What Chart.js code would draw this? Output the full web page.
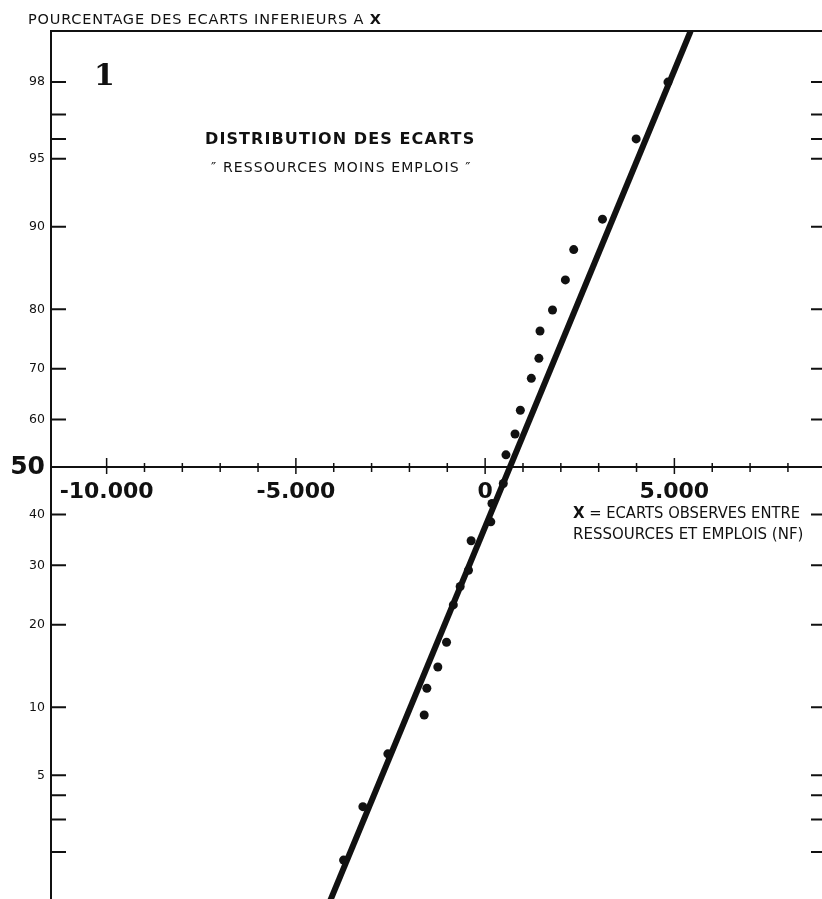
<!DOCTYPE html>
<html>
<head>
<meta charset="utf-8">
<script src="https://cdn.jsdelivr.net/npm/chart.js@4.4.1/dist/chart.umd.min.js"></script>
<style>
  html, body { margin: 0; padding: 0; background: #fff; overflow: hidden; }
  #wrap { width: 822px; height: 899px; }
</style>
</head>
<body>
<div id="wrap"><canvas id="probitChart" width="822" height="899"></canvas></div>
<script>
// ecarts observes (NF) et pourcentage cumule correspondant
const ecarts = [4830, 3990, 3100, 2340, 2120, 1780, 1450, 1420, 1220, 930, 790, 550, 480,
  180, 150, -370, -440, -660, -840, -1020, -1250, -1540, -1610, -2570, -3230, -3740];
const pourcentages = [98.0, 96.0, 90.7, 87.7, 84.1, 79.9, 76.6, 71.9, 68.2, 61.9, 57.0, 52.6, 46.5,
  42.3, 38.5, 34.7, 29.1, 26.2, 23.1, 17.5, 14.3, 11.9, 9.3, 6.3, 3.5, 1.8];

// droite d'ajustement (deux extremites)
const droiteX = [-4120, 5430];
const droitePct = [1, 99];

// graduations
const yGraduations = [98, 97, 96, 95, 90, 80, 70, 60, 50, 40, 30, 20, 10, 5, 4, 3, 2];
const yLabels = [98, 95, 90, 80, 70, 60, 50, 40, 30, 20, 10, 5];
const xGraduations = [-10000, -9000, -8000, -7000, -6000, -5000, -4000, -3000, -2000, -1000,
  0, 1000, 2000, 3000, 4000, 5000, 6000, 7000, 8000];
const xLabels = [-10000, -5000, 0, 5000];

const ink = '#111';
const family = '"DejaVu Sans", sans-serif';

// inverse of the normal distribution (Acklam), used for the probability scale
function probit(p) {
  const a = [-39.69683028665376, 220.9460984245205, -275.9285104469687, 138.3577518672690, -30.66479806614716, 2.506628277459239];
  const b = [-54.47609879822406, 161.5858368580409, -155.6989798598866, 66.80131188771972, -13.28068155288572];
  const c = [-0.007784894002430293, -0.3223964580411365, -2.400758277161838, -2.549732539343734, 4.374664141464968, 2.938163982698783];
  const d = [0.007784695709041462, 0.3224671290700398, 2.445134137142996, 3.754408661907416];
  const pl = 0.02425;
  if (p < pl) {
    const q = Math.sqrt(-2 * Math.log(p));
    return (((((c[0]*q+c[1])*q+c[2])*q+c[3])*q+c[4])*q+c[5]) / ((((d[0]*q+d[1])*q+d[2])*q+d[3])*q+1);
  }
  if (p > 1 - pl) {
    const q = Math.sqrt(-2 * Math.log(1 - p));
    return -(((((c[0]*q+c[1])*q+c[2])*q+c[3])*q+c[4])*q+c[5]) / ((((d[0]*q+d[1])*q+d[2])*q+d[3])*q+1);
  }
  const q = p - 0.5, r = q * q;
  return (((((a[0]*r+a[1])*r+a[2])*r+a[3])*r+a[4])*r+a[5])*q / (((((b[0]*r+b[1])*r+b[2])*r+b[3])*r+b[4])*r+1);
}
const z = pct => probit(pct / 100);

const points = ecarts.map((x, i) => ({ x: x, y: z(pourcentages[i]) }));
const droite = droiteX.map((x, i) => ({ x: x, y: z(droitePct[i]) }));

function fmtNF(v) {
  if (v === 0) return '0';
  const s = Math.abs(v).toString().replace(/\B(?=(\d{3})+(?!\d))/g, '.');
  return (v < 0 ? '-' : '') + s;
}

function pctOf(v) {
  return yGraduations.find(p => Math.abs(z(p) - v) < 1e-6);
}

function spaced(ctx, str, x, y, spacing) {
  ctx.letterSpacing = spacing + 'px';
  ctx.fillText(str, x, y);
  const w = ctx.measureText(str).width;
  ctx.letterSpacing = '0px';
  return w;
}

// axis lines, tick marks and the printed captions
const decor = {
  id: 'decor',
  beforeDatasetsDraw(chart) {
    const { ctx, chartArea: area, scales: { x, y } } = chart;
    const y50 = y.getPixelForValue(0);
    ctx.save();
    ctx.strokeStyle = ink;
    ctx.lineWidth = 2;
    ctx.beginPath();
    ctx.moveTo(area.left, area.top);
    ctx.lineTo(area.right, area.top);
    ctx.moveTo(area.left, y50);
    ctx.lineTo(area.right, y50);
    ctx.stroke();

    ctx.lineWidth = 1.5;
    ctx.beginPath();
    xGraduations.forEach(v => {
      const px = x.getPixelForValue(v);
      const major = v % 5000 === 0;
      ctx.moveTo(px, y50 - (major ? 9 : 4));
      ctx.lineTo(px, y50 + (major ? 7 : 5));
    });
    ctx.stroke();

    ctx.lineWidth = 2;
    ctx.beginPath();
    yGraduations.filter(p => p !== 50).forEach(p => {
      const py = y.getPixelForValue(z(p));
      ctx.moveTo(area.left, py);
      ctx.lineTo(area.left + 15, py);
      ctx.moveTo(area.right - 11, py);
      ctx.lineTo(area.right, py);
    });
    ctx.stroke();
    ctx.restore();
  },
  afterDraw(chart) {
    const ctx = chart.ctx;
    ctx.save();
    ctx.fillStyle = ink;
    ctx.textBaseline = 'alphabetic';
    ctx.textAlign = 'left';

    ctx.font = '14.5px ' + family;
    const headW = spaced(ctx, 'POURCENTAGE DES ECARTS INFERIEURS A ', 28, 23.5, 0.8);
    ctx.font = 'bold 14.5px ' + family;
    ctx.fillText('X', 28 + headW, 23.5);

    ctx.font = 'bold 30px "DejaVu Serif", serif';
    ctx.fillText('1', 94, 85);

    ctx.font = 'bold 16px ' + family;
    spaced(ctx, 'DISTRIBUTION DES ECARTS', 205, 143.5, 1.1);
    ctx.font = '14px ' + family;
    spaced(ctx, '\u2033 RESSOURCES MOINS EMPLOIS \u2033', 211, 172, 1.1);

    ctx.font = 'bold 15px ' + family;
    ctx.fillText('X', 573, 517.5);
    const xw = ctx.measureText('X').width;
    ctx.font = '15px ' + family;
    ctx.fillText(' = ECARTS OBSERVES ENTRE', 573 + xw, 517.5, 227 - xw);
    ctx.fillText('RESSOURCES ET EMPLOIS (NF)', 573, 538.5, 232);
    ctx.restore();
  }
};

const ctx = document.getElementById('probitChart').getContext('2d');
new Chart(ctx, {
  type: 'scatter',
  data: {
    datasets: [
      {
        label: 'Ecarts observes',
        data: points,
        pointRadius: 4.5,
        pointBackgroundColor: ink,
        pointBorderWidth: 0,
        order: 1
      },
      {
        label: 'Droite',
        data: droite,
        showLine: true,
        borderColor: ink,
        borderWidth: 6,
        pointRadius: 0,
        order: 2
      }
    ]
  },
  options: {
    responsive: false,
    animation: false,
    layout: { autoPadding: false, padding: { top: 31, left: 0, right: 0, bottom: 0 } },
    plugins: {
      legend: { display: false },
      tooltip: { enabled: false }
    },
    scales: {
      x: {
        type: 'linear',
        position: { y: 0 },
        min: -11470,
        max: 8900,
        afterBuildTicks: s => { s.ticks = xGraduations.map(v => ({ value: v })); },
        afterFit: s => {
          s.height = 0;
          s.paddingLeft = 0;
          s.paddingRight = 0;
          s.paddingTop = 0;
          s.paddingBottom = 0;
        },
        grid: { display: false, drawTicks: false },
        border: { display: false },
        ticks: {
          autoSkip: false,
          maxRotation: 0,
          padding: 12,
          color: ink,
          font: { family: family, size: 22, weight: 'bold' },
          callback: v => xLabels.includes(v) ? fmtNF(v) : ''
        }
      },
      y: {
        type: 'linear',
        min: z(1.06),
        max: z(99),
        afterBuildTicks: s => { s.ticks = yGraduations.map(p => ({ value: z(p) })); },
        afterFit: s => {
          s.width = 51;
          s.paddingTop = 0;
          s.paddingBottom = 0;
        },
        grid: { display: false, drawTicks: false },
        border: { display: true, color: ink, width: 2 },
        ticks: {
          autoSkip: false,
          padding: 6,
          color: ink,
          font: c => (c.tick && Math.abs(c.tick.value) < 1e-9)
            ? { family: family, size: 25, weight: 'bold' }
            : { family: family, size: 12.5 },
          callback: v => {
            const p = pctOf(v);
            return yLabels.includes(p) ? String(p) : '';
          }
        }
      }
    }
  },
  plugins: [decor]
});
</script>
</body>
</html>
